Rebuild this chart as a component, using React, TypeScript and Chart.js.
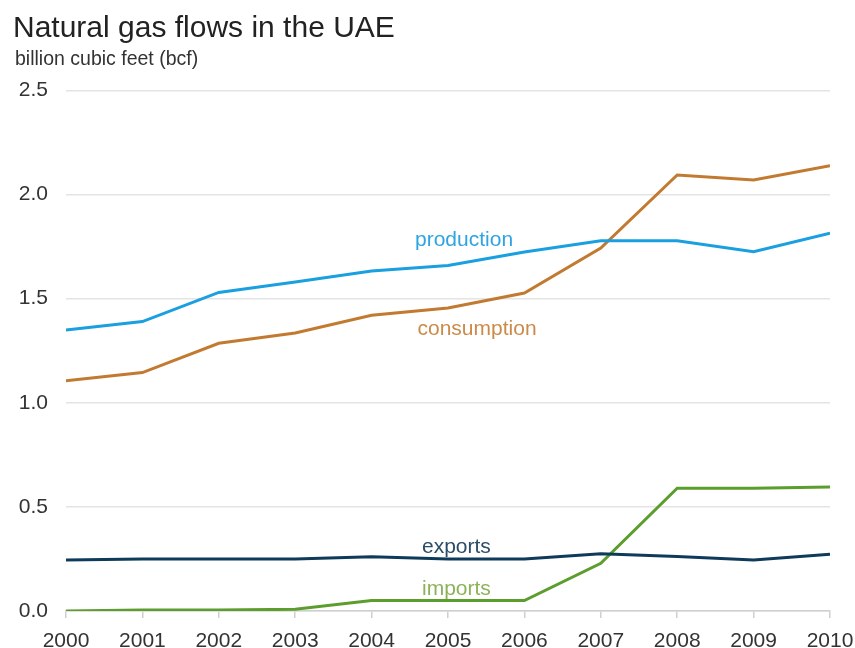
import React, { useEffect, useRef } from 'react';
import { Chart, registerables } from 'chart.js';
Chart.register(...registerables);

const years = [2000, 2001, 2002, 2003, 2004, 2005, 2006, 2007, 2008, 2009, 2010];
const production = [1.35, 1.39, 1.53, 1.58, 1.633, 1.66, 1.724, 1.778, 1.778, 1.726, 1.815];
const consumption = [1.106, 1.145, 1.286, 1.335, 1.42, 1.455, 1.527, 1.743, 2.094, 2.07, 2.139];
const exportsSeries = [0.245, 0.25, 0.25, 0.25, 0.26, 0.25, 0.25, 0.275, 0.262, 0.245, 0.272];
const importsSeries = [0.0, 0.005, 0.005, 0.008, 0.05, 0.05, 0.05, 0.229, 0.59, 0.59, 0.595];
const yTickValues = [0, 0.5, 1.0, 1.5, 2.0, 2.5];

const titleText = 'Natural gas flows in the UAE';
const subtitleText = 'billion cubic feet (bcf)';

const seriesNames = ['production', 'consumption', 'exports', 'imports'];
const lineColors = ['#1a9fe0', '#c27a30', '#0e3b5a', '#5c9e2e'];
const labelColors = ['#2ea4e0', '#cc8a48', '#2c4d68', '#8db25a'];
// label anchors in data coordinates (year, value)
const labelYears = [2005.21, 2005.38, 2005.11, 2005.11];
const labelValues = [1.782, 1.354, 0.307, 0.106];

const FONT = '"Liberation Sans", Arial, sans-serif';

const textPlugin = {
  id: 'textPlugin',
  afterDraw(chart: any) {
    const ctx = chart.ctx;
    ctx.save();
    ctx.textAlign = 'left';
    ctx.textBaseline = 'alphabetic';
    ctx.fillStyle = '#222222';
    ctx.font = `30px ${FONT}`;
    ctx.fillText(titleText, 13, 37);
    ctx.fillStyle = '#333333';
    ctx.font = `19.5px ${FONT}`;
    ctx.fillText(subtitleText, 15, 65);

    const xs = chart.scales.x;
    const ys = chart.scales.y;
    ctx.font = `21px ${FONT}`;
    ctx.textAlign = 'center';
    ctx.textBaseline = 'middle';
    seriesNames.forEach((name, i) => {
      ctx.fillStyle = labelColors[i];
      ctx.fillText(name, xs.getPixelForValue(labelYears[i]), ys.getPixelForValue(labelValues[i]));
    });
    ctx.restore();
  },
};

export default function App() {
  const ref = useRef<HTMLCanvasElement | null>(null);
  useEffect(() => {
    document.body.style.margin = '0';
    const seriesData = [production, consumption, exportsSeries, importsSeries];
    const chart = new Chart(ref.current as HTMLCanvasElement, {
      type: 'line',
      data: {
        datasets: seriesNames.map((name, i) => ({
          label: name,
          data: years.map((yr, j) => ({ x: yr, y: seriesData[i][j] })),
          borderColor: lineColors[i],
          borderWidth: 3,
          pointRadius: 0,
          tension: 0,
          fill: false,
        })),
      },
      options: {
        responsive: false,
        animation: false,
        events: [],
        layout: { padding: { top: 90.5, right: 25, left: 0, bottom: 0 } },
        plugins: { legend: { display: false }, tooltip: { enabled: false }, title: { display: false } },
        scales: {
          x: {
            type: 'linear',
            min: 2000,
            max: 2010,
            afterFit: (s: any) => { s.height = 37; s.paddingLeft = 0; s.paddingRight = 0; },
            afterBuildTicks: (s: any) => { s.ticks = years.map((v) => ({ value: v })); },
            ticks: {
              callback: (v: any) => String(v),
              color: '#333333',
              font: { family: FONT, size: 21 },
              padding: 11,
              maxRotation: 0,
              autoSkip: false,
            },
            grid: { drawOnChartArea: false, drawTicks: true, tickLength: 7, color: '#cfcfcf', lineWidth: 1.5 },
            border: { display: true, color: '#cfcfcf', width: 1.5 },
          },
          y: {
            min: 0,
            max: 2.5,
            afterFit: (s: any) => { s.width = 66; s.paddingTop = 0; s.paddingBottom = 0; },
            afterBuildTicks: (s: any) => { s.ticks = yTickValues.map((v) => ({ value: v })); },
            ticks: {
              callback: (v: any) => Number(v).toFixed(1),
              color: '#333333',
              font: { family: FONT, size: 21 },
              padding: 18,
            },
            grid: { drawTicks: false, color: '#e4e4e4', lineWidth: 1.5 },
            border: { display: false },
          },
        },
      },
      plugins: [textPlugin],
    });
    return () => chart.destroy();
  }, []);
  return (
    <div style={{ position: 'absolute', left: 0, top: 0, width: 855, height: 648, background: '#ffffff' }}>
      <canvas ref={ref} width={855} height={648} />
    </div>
  );
}
